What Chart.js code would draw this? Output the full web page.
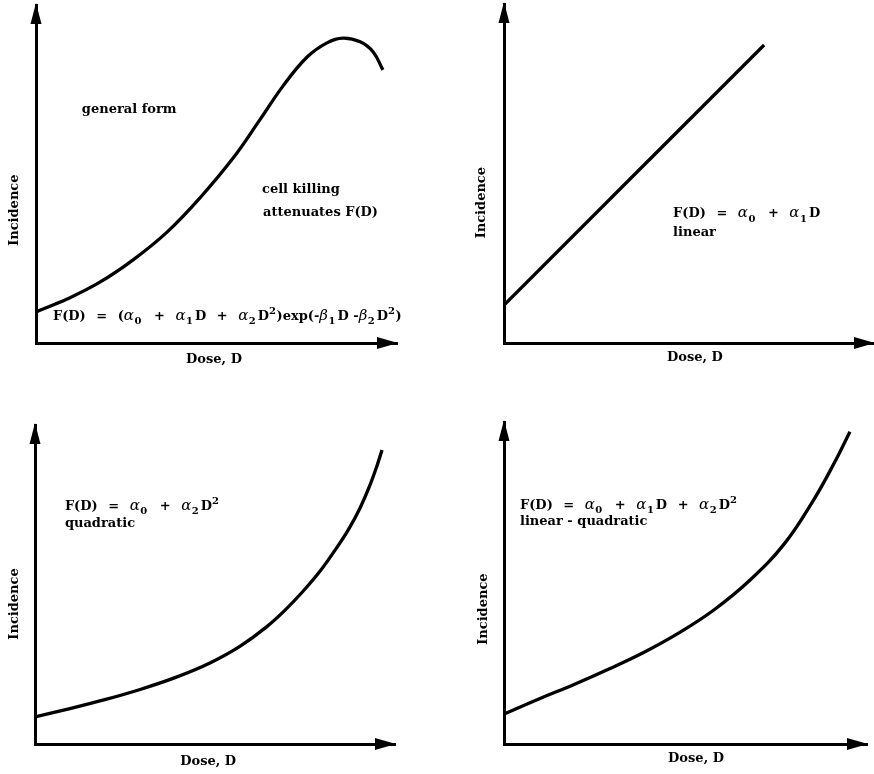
<!DOCTYPE html>
<html><head><meta charset="utf-8">
<script src="https://cdn.jsdelivr.net/npm/chart.js@4"></script>
<style>
html,body{margin:0;padding:0;background:#fff;}
#wrap{position:relative;width:874px;height:774px;overflow:hidden;background:#fff;}
.pane{position:absolute;width:437px;height:387px;}
canvas{display:block;}
</style></head><body>
<div id="wrap">
<div class="pane" style="left:0;top:0"><canvas id="c1" width="437" height="387"></canvas></div>
<div class="pane" style="left:437px;top:0"><canvas id="c2" width="437" height="387"></canvas></div>
<div class="pane" style="left:0;top:387px"><canvas id="c3" width="437" height="387"></canvas></div>
<div class="pane" style="left:437px;top:387px"><canvas id="c4" width="437" height="387"></canvas></div>
</div>
<script>
// ---- Data (dose and incidence in arbitrary units, 0-100 of each axis) ----
const generalDose      = [0, 8.6, 17.7, 26.9, 36.3, 45.4, 54.6, 62.0, 68.4, 75.1, 80.6, 85.0, 89.8, 93.4, 96.1];
const generalIncidence = [9.2, 13.0, 18.0, 24.6, 32.8, 42.9, 54.7, 66.0, 76.0, 84.6, 88.8, 90.2, 89.1, 86.1, 80.8];

const linearDose      = [0, 70.3];
const linearIncidence = [11.2, 87.9];

const quadDose      = [0, 9.7, 19.4, 29.2, 38.9, 48.6, 56.9, 64.4, 69.4, 74.4, 79.2, 83.3, 86.9, 90.3, 93.1, 95.0, 96.4];
const quadIncidence = [8.5, 11.1, 13.9, 17.1, 20.8, 25.4, 30.6, 36.8, 41.9, 47.8, 54.2, 60.7, 66.9, 74.0, 81.3, 87.2, 92.2];

const lqDose      = [0, 9.6, 19.3, 28.9, 38.6, 48.2, 57.9, 67.5, 77.1, 85.4, 90.9, 95.3];
const lqIncidence = [9.3, 14.0, 18.5, 23.3, 28.5, 34.5, 41.7, 50.6, 62.0, 76.0, 87.1, 97.0];

const xAxisTitle = 'Dose, D';
const yAxisTitle = 'Incidence';

const generalLabels = ['general form', 'cell killing', 'attenuates F(D)', 'F(D) = (α_0 + α_1D + α_2D^2)exp(-β_1D -β_2D^2)'];
const linearLabels  = ['F(D) = α_0 + α_1D', 'linear'];
const quadLabels    = ['F(D) = α_0 + α_2D^2', 'quadratic'];
const lqLabels      = ['F(D) = α_0 + α_1D + α_2D^2', 'linear - quadratic'];

// ---- Rendering helpers ----
const FONT = "'DejaVu Serif', 'Liberation Serif', serif";
const SIZE = 13;

function drawRich(ctx, str, x, yMid) {
  const base = yMid + SIZE * 0.36;
  let cx = x;
  for (let i = 0; i < str.length; i++) {
    let ch = str[i];
    let mode = 'n';
    if ((ch === '_' || ch === '^') && i + 1 < str.length) {
      mode = ch === '_' ? 'sub' : 'sup';
      i++; ch = str[i];
    }
    let font, y = base, extra = 0;
    if (mode === 'sub') { font = `bold 10px ${FONT}`; y = base + SIZE * 0.36; extra = 2; }
    else if (mode === 'sup') { font = `bold 10px ${FONT}`; y = base - SIZE * 0.45; extra = 0.5; }
    else if (ch === 'α' || ch === 'β') { font = `italic 15px ${FONT}`; extra = 0.5; }
    else { font = `bold ${SIZE}px ${FONT}`; }
    ctx.font = font;
    ctx.fillText(ch, cx, y);
    cx += ctx.measureText(ch).width + extra;
    if (ch === '=' || ch === '+') cx += 6;
    if (str[i + 1] === '=' || str[i + 1] === '+') cx += 6;
  }
}

const decor = {
  id: 'decor',
  afterDraw(chart, args, opts) {
    const {ctx, chartArea: a, scales: {x, y}} = chart;
    ctx.save();
    ctx.fillStyle = '#000';
    // arrow heads
    ctx.beginPath();
    ctx.moveTo(a.left, a.top - 2);
    ctx.lineTo(a.left + 5.5, a.top + 19);
    ctx.lineTo(a.left - 5.5, a.top + 19);
    ctx.closePath(); ctx.fill();
    ctx.beginPath();
    ctx.moveTo(a.right + 1, a.bottom);
    ctx.lineTo(a.right - 20, a.bottom - 6);
    ctx.lineTo(a.right - 20, a.bottom + 6);
    ctx.closePath(); ctx.fill();
    // labels
    ctx.textAlign = 'left';
    ctx.textBaseline = 'alphabetic';
    (opts.labels || []).forEach(l => drawRich(ctx, l.text, x.getPixelForValue(l.x), y.getPixelForValue(l.y)));
    // axis titles
    ctx.font = `bold ${SIZE}px ${FONT}`;
    ctx.textAlign = 'center';
    ctx.textBaseline = 'middle';
    ctx.fillText(xAxisTitle, x.getPixelForValue(opts.xt.x), a.bottom + opts.xt.dy);
    ctx.save();
    ctx.translate(a.left - opts.yt.dx, y.getPixelForValue(opts.yt.y));
    ctx.rotate(-Math.PI / 2);
    ctx.fillText(yAxisTitle, 0, 0);
    ctx.restore();
    ctx.restore();
  }
};

function makeChart(id, dose, inc, pad, labels, xt, yt, mono) {
  return new Chart(document.getElementById(id), {
    type: 'line',
    data: { datasets: [{
      data: dose.map((d, i) => ({x: d, y: inc[i]})),
      borderColor: '#000', borderWidth: 3.3, pointRadius: 0,
      tension: 0.4, cubicInterpolationMode: mono ? 'monotone' : 'default', fill: false
    }]},
    options: {
      responsive: false, animation: false, devicePixelRatio: 1,
      layout: { padding: pad },
      plugins: { legend: {display: false}, tooltip: {enabled: false}, decor: {labels, xt, yt} },
      scales: {
        x: { type: 'linear', min: 0, max: 100, ticks: {display: false}, grid: {display: false, drawTicks: false, tickLength: 0},
             border: {display: true, color: '#000', width: 3} },
        y: { type: 'linear', min: 0, max: 100, ticks: {display: false}, grid: {display: false, drawTicks: false, tickLength: 0},
             border: {display: true, color: '#000', width: 3} }
      }
    },
    plugins: [decor]
  });
}

// panel 1: area left 36, top 5, right 397, bottom 343 (canvas at 0,0)
makeChart('c1', generalDose, generalIncidence, {left: 36, top: 5, right: 437 - 397, bottom: 387 - 343},
  [{text: generalLabels[0], x: 12.7, y: 69.5}, {text: generalLabels[1], x: 62.6, y: 45.9},
   {text: generalLabels[2], x: 62.9, y: 39.1}, {text: generalLabels[3], x: 4.7, y: 8.3}],
  {x: 49.3, dy: 17}, {y: 39.3, dx: 21}, false);

// panel 2: canvas at 437,0 ; area left 504, top 4, right 874, bottom 343
makeChart('c2', linearDose, linearIncidence, {left: 504 - 437, top: 4, right: 0, bottom: 387 - 343},
  [{text: linearLabels[0], x: 45.7, y: 38.5}, {text: linearLabels[1], x: 45.7, y: 32.8}],
  {x: 51.6, dy: 15}, {y: 41.4, dx: 22}, false);

// panel 3: canvas at 0,387 ; area left 35, top 425, right 395, bottom 744
makeChart('c3', quadDose, quadIncidence, {left: 35, top: 425 - 387, right: 437 - 395, bottom: 387 - (744 - 387)},
  [{text: quadLabels[0], x: 8.3, y: 74.9}, {text: quadLabels[1], x: 8.3, y: 69.6}],
  {x: 48.1, dy: 18}, {y: 43.9, dx: 20}, true);

// panel 4: canvas at 437,387 ; area left 504, top 422, right 867, bottom 744
makeChart('c4', lqDose, lqIncidence, {left: 504 - 437, top: 422 - 387, right: 874 - 867, bottom: 387 - (744 - 387)},
  [{text: lqLabels[0], x: 4.4, y: 74.5}, {text: lqLabels[1], x: 4.4, y: 69.6}],
  {x: 52.9, dy: 15}, {y: 41.9, dx: 20}, false);
</script>
</body></html>
